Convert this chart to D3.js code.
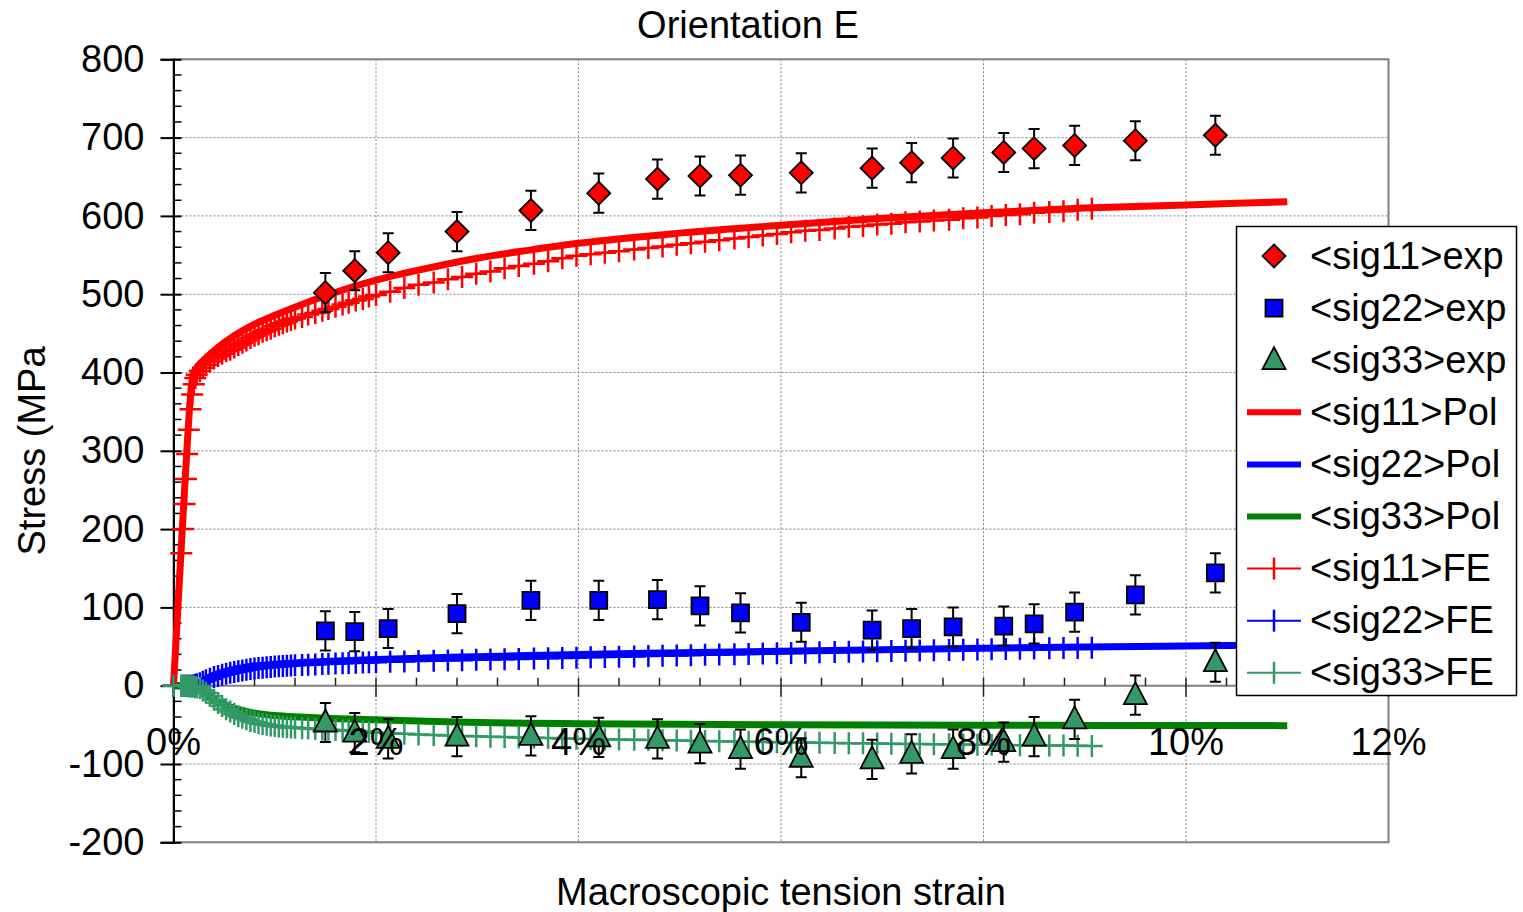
<!DOCTYPE html>
<html><head><meta charset="utf-8">
<script src="https://cdn.jsdelivr.net/npm/d3@7"></script>
<style>body{margin:0;background:#fff}text{font-family:"Liberation Sans",Arial,sans-serif;fill:#000}</style>
</head><body>
<script>
// ---------- DATA ----------
const yTickValues = [-200,-100,0,100,200,300,400,500,600,700,800];
const xTickValues = [0,2,4,6,8,10,12];
const xTickLabels = ["0%","2%","4%","6%","8%","10%","12%"];

const expStrain = [1.50,1.79,2.12,2.80,3.53,4.20,4.78,5.20,5.60,6.20,6.90,7.29,7.70,8.20,8.50,8.90,9.50,10.29];
const exp11 = [502,530,553,580,607,629,647,651,652,655,661,668,674,681,686,690,696,703];
const exp22 = [70,69,73,92,109,109,110,102,93,81,71,73,75,76,79,94,116,144];
const exp33 = [-47,-60,-68,-65,-64,-66,-68,-74,-81,-92,-94,-87,-81,-72,-65,-43,-12,30];
const expErr = [25,25,25,25,25,25,25,25,25,25,25,25,25,25,25,25,25,25];

const polStrain = [0,0.05,0.1,0.13,0.156,0.175,0.196,0.23,0.26,0.3,0.43,0.6,0.76,1.0,1.25,1.5,2.0,2.5,3.0,3.5,4.0,5.0,6.0,7.0,8.0,9.0,10.0,11.0];
const pol11 = [0,115,230,296,350,380,398,406,411,416,431,447,459,473,486,498,518,533,546,556,565,578,588,597,604,610,614,618];
const pol22 = [0,0,0,0,0,0,0,1,3,7,15,21,24.5,27.5,29.5,31,33.5,35.5,37,38.5,40,42,44,46,47.8,49.5,50.8,52];
const pol33 = [0,0,0,0,0,0,0,-1,-3,-8,-20,-29,-34,-38,-40,-41.5,-43.5,-45.5,-47,-48,-48.5,-49.3,-49.8,-50.2,-50.5,-50.7,-50.9,-51];

const feStrain = [0,0.077,0.094,0.109,0.123,0.135,0.151,0.168,0.184,0.2,0.215,0.229,
0.26,0.29,0.32,0.36,0.40,0.44,0.48,0.52,0.56,0.60,0.64,0.68,0.72,0.76,0.80,0.84,0.88,0.92,0.96,1.00,1.04,1.08,1.12,1.16,1.20,
1.27,1.33,1.40,1.47,1.53,1.60,1.67,1.73,1.80,1.87,1.93,
2.00,2.14,2.28,2.42,2.57,2.71,2.85,2.99,3.13,3.27,3.41,3.56,3.70,3.84,3.98,4.12,4.26,4.40,4.55,4.69,4.83,4.97,5.11,5.25,5.39,5.54,5.68,5.82,5.96,6.10,6.24,6.38,6.53,6.67,6.81,6.95,7.09,7.23,7.37,7.51,7.66,7.80,7.94,8.08,8.22,8.36,8.50,8.65,8.79,8.93,9.07];
const fe11 = [0,169,200,232,264,296,327,353,372,385,393,397,
402,406,410,414,418,421,424,427,429,432,435,438,441,444,447,449,452,454,456,459,461,463,465,467,469,
471,474,476,479,481,484,487,489,492,494,497,
499,503,508,512,515,519,522,526,529,533,536,539,542,546,549,551,553,555,557,559,561,563,565,567,569,571,573,575,577,579,581,582,584,586,587,589,590,592,593,594,595,597,598,600,601,602,604,605,606,608,609];
const fe22 = [0,0,0,0,0,0,0,0,0,0.5,1,2,
3,5,7,9,11,12.5,14,15.3,16.5,17.5,18.5,19.5,20.5,21.2,22,22.5,23,23.5,24,24.4,24.8,25.1,25.4,25.7,26,
26.4,26.8,27.2,27.6,28,28.3,28.6,28.9,29.2,29.5,29.8,
30,30.5,31,31.4,31.8,32.2,32.6,33,33.4,33.8,34.2,34.6,35,35.4,35.8,36.2,36.6,37,37.4,37.8,38.2,38.6,39,39.4,39.8,40.2,40.6,41,41.4,41.8,42.2,42.6,43,43.4,43.8,44.1,44.4,44.7,45,45.3,45.6,45.9,46.2,46.5,46.8,47.1,47.4,47.7,48,48.3,48.6];
const fe33 = [0,0,0,0,0,0,-1,-1,-1,-1,-2,-2,
-3,-6,-9,-13,-18,-22,-26,-30,-33,-36,-39,-41,-43,-45,-46.5,-48,-49,-50,-50.8,-51.5,-52,-52.5,-53,-53.4,-53.8,
-54.3,-54.8,-55.3,-55.8,-56.2,-56.7,-57.2,-57.6,-58,-58.5,-59,
-60,-60.8,-61.5,-62.2,-62.9,-63.5,-64.1,-64.6,-65.1,-65.6,-66.1,-66.5,-66.9,-67.3,-67.7,-68.1,-68.5,-68.8,-69.1,-69.4,-69.7,-70,-70.3,-70.6,-70.9,-71.2,-71.5,-71.8,-72.1,-72.4,-72.7,-73,-73.2,-73.4,-73.6,-73.9,-74.1,-74.3,-74.5,-74.7,-74.9,-75.1,-75.3,-75.5,-75.7,-75.9,-76.1,-76.3,-76.5,-76.7,-77];

const legendLabels = ["<sig11>exp","<sig22>exp","<sig33>exp","<sig11>Pol","<sig22>Pol","<sig33>Pol","<sig11>FE","<sig22>FE","<sig33>FE"];

// ---------- CHART ----------
const W = 1523, H = 912, FS = 38;
const RED = "#ff0000", BLUE = "#0000ff", DGREEN = "#008000", SGREEN = "#339966";
const svg = d3.select("body").append("svg").attr("width", W).attr("height", H);
svg.append("rect").attr("width", W).attr("height", H).attr("fill", "#fff");

const x = d3.scaleLinear().domain([0, 12]).range([173.5, 1388.5]);
const y = d3.scaleLinear().domain([-200, 800]).range([842.3, 59.3]);

// grid
const grid = svg.append("g");
grid.selectAll(".hg").data(yTickValues.filter(v => v !== 0)).enter().append("line")
  .attr("x1", x(0)).attr("x2", x(12)).attr("y1", d => y(d)).attr("y2", d => y(d))
  .attr("stroke", "#808080").attr("stroke-width", 1).attr("stroke-dasharray", "2,2");
grid.selectAll(".vg").data(xTickValues.filter(v => v > 0 && v < 12)).enter().append("line")
  .attr("x1", d => x(d)).attr("x2", d => x(d)).attr("y1", y(800)).attr("y2", y(-200))
  .attr("stroke", "#808080").attr("stroke-width", 1).attr("stroke-dasharray", "2,2");
svg.append("rect").attr("x", x(0)).attr("y", y(800)).attr("width", x(12) - x(0)).attr("height", y(-200) - y(800))
  .attr("fill", "none").attr("stroke", "#808080").attr("stroke-width", 2);

// x axis at y = 0
const xa = svg.append("g");
xa.append("line").attr("x1", x(0)).attr("x2", x(12)).attr("y1", y(0)).attr("y2", y(0))
  .attr("stroke", "#808080").attr("stroke-width", 2);
const minorX = d3.range(0, 12.001, 0.4).filter(v => Math.abs(v / 2 - Math.round(v / 2)) > 0.01);
xa.selectAll(".mx").data(minorX).enter().append("line")
  .attr("x1", d => x(d)).attr("x2", d => x(d)).attr("y1", y(0)).attr("y2", y(0) - 8)
  .attr("stroke", "#222").attr("stroke-width", 1.5);
xa.selectAll(".Mx").data(xTickValues).enter().append("line")
  .attr("x1", d => x(d)).attr("x2", d => x(d)).attr("y1", y(0) - 8).attr("y2", y(0) + 11)
  .attr("stroke", "#222").attr("stroke-width", 1.5);

// y axis
const ya = svg.append("g").attr("transform", `translate(${x(0)},0)`)
  .call(d3.axisLeft(y).tickValues(yTickValues).tickSize(13).tickPadding(16).tickFormat(d => String(d)));
ya.select(".domain").attr("stroke", "#000").attr("stroke-width", 2);
ya.selectAll(".tick line").attr("stroke", "#000").attr("stroke-width", 2).attr("x2", -13).attr("x1", 8);
ya.selectAll(".tick text").attr("font-size", FS).attr("font-family", "Liberation Sans, Arial, sans-serif").attr("fill", "#000");
const minorY = d3.range(-200, 800, 20).filter(v => v % 100 !== 0);
svg.selectAll(".my").data(minorY).enter().append("line")
  .attr("x1", x(0)).attr("x2", x(0) + 8).attr("y1", d => y(d)).attr("y2", d => y(d))
  .attr("stroke", "#000").attr("stroke-width", 1.5);

// Pol lines
const polLine = vals => d3.line().curve(d3.curveMonotoneX).x((d, i) => x(polStrain[i])).y((d, i) => y(vals[i]));
[[pol22, BLUE], [pol33, DGREEN], [pol11, RED]].forEach(([vals, col]) => {
  svg.append("path").datum(vals).attr("d", polLine(vals)).attr("fill", "none")
    .attr("stroke", col).attr("stroke-width", 7).attr("stroke-linejoin", "round");
});

// FE lines with + markers
function feSeries(vals, col) {
  const g = svg.append("g");
  g.append("path").datum(vals)
    .attr("d", d3.line().x((d, i) => x(feStrain[i])).y(d => y(d))(vals))
    .attr("fill", "none").attr("stroke", col).attr("stroke-width", 2);
  const pts = g.selectAll("g").data(vals).enter().append("g")
    .attr("transform", (d, i) => `translate(${x(feStrain[i])},${y(d)})`);
  pts.append("path").attr("d", "M-11,0H11M0,-11V11").attr("stroke", col).attr("stroke-width", 2.5).attr("fill", "none");
}
feSeries(fe11, RED);
feSeries(fe22, BLUE);
feSeries(fe33, SGREEN);

// exp with error bars
function expSeries(vals, shape, fill) {
  const g = svg.append("g");
  const pts = g.selectAll("g").data(vals).enter().append("g")
    .attr("transform", (d, i) => `translate(${x(expStrain[i])},${y(d)})`);
  pts.append("path").attr("d", (d, i) => {
    const t = y(d + expErr[i]) - y(d), b = y(d - expErr[i]) - y(d);
    return `M0,${t}V${b}M-5.5,${t}H5.5M-5.5,${b}H5.5`;
  }).attr("stroke", "#000").attr("stroke-width", 2).attr("fill", "none");
  pts.append("path").attr("d", shape).attr("fill", fill).attr("stroke", "#000").attr("stroke-width", 1.8);
}
const DIAMOND = "M0,-11.5L11.5,0L0,11.5L-11.5,0Z";
const SQUARE = "M-8.5,-8.5H8.5V8.5H-8.5Z";
const TRIANGLE = "M0,-13L11.5,9L-11.5,9Z";
expSeries(exp11, DIAMOND, RED);
expSeries(exp22, SQUARE, BLUE);
expSeries(exp33, TRIANGLE, SGREEN);

// x tick labels (drawn on top)
svg.selectAll(".xl").data(xTickValues).enter().append("text")
  .attr("x", d => x(d)).attr("y", 755).attr("text-anchor", "middle").attr("font-size", FS)
  .text((d, i) => xTickLabels[i]);

// titles
svg.append("text").attr("x", 748).attr("y", 38).attr("text-anchor", "middle").attr("font-size", FS).text("Orientation E");
svg.append("text").attr("x", 781).attr("y", 905).attr("text-anchor", "middle").attr("font-size", FS).text("Macroscopic tension strain");
svg.append("text").attr("transform", "translate(45,451) rotate(-90)").attr("text-anchor", "middle").attr("font-size", FS).text("Stress (MPa");

// legend
const lg = svg.append("g");
lg.append("rect").attr("x", 1236.5).attr("y", 226.5).attr("width", 280).attr("height", 469)
  .attr("fill", "#fff").attr("stroke", "#000").attr("stroke-width", 1.5);
const legendKinds = [
  {m: DIAMOND, f: RED}, {m: SQUARE, f: BLUE}, {m: TRIANGLE, f: SGREEN},
  {l: RED, w: 6}, {l: BLUE, w: 6}, {l: DGREEN, w: 6},
  {l: RED, w: 2, c: true}, {l: BLUE, w: 2, c: true}, {l: SGREEN, w: 2, c: true}
];
legendLabels.forEach((lab, i) => {
  const cy = 256 + i * 52.1;
  const k = legendKinds[i];
  if (k.m) {
    lg.append("path").attr("transform", `translate(1274,${cy})`).attr("d", k.m)
      .attr("fill", k.f).attr("stroke", "#000").attr("stroke-width", 1.8);
  } else {
    lg.append("line").attr("x1", 1247).attr("x2", 1301).attr("y1", cy).attr("y2", cy)
      .attr("stroke", k.l).attr("stroke-width", k.w);
    if (k.c) lg.append("line").attr("x1", 1274).attr("x2", 1274).attr("y1", cy - 11).attr("y2", cy + 11)
      .attr("stroke", k.l).attr("stroke-width", 2.5);
  }
  lg.append("text").attr("x", 1310).attr("y", cy + 12.5).attr("font-size", FS).text(lab);
});
</script>
</body></html>
